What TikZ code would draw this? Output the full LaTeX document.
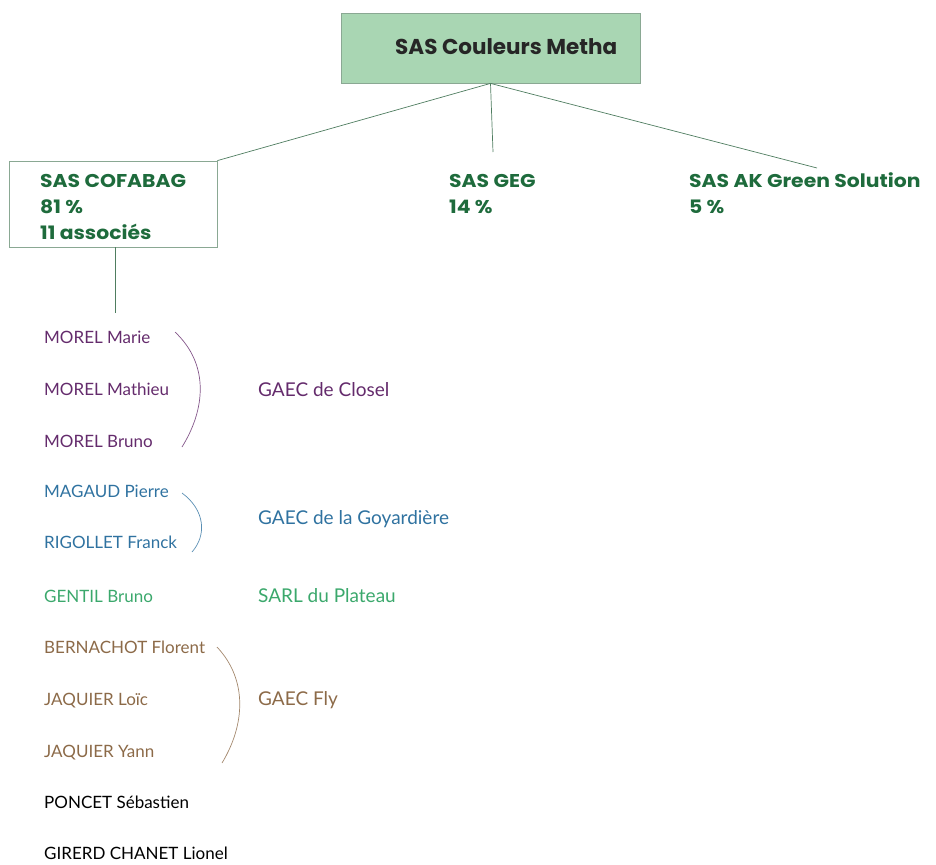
\documentclass[tikz,border=0pt]{standalone}
\usepackage{fontspec}
\setmainfont{Lato}
\newfontfamily\hdrfont{Poppins}
\newfontfamily\hdrwide[FakeStretch=1.1]{Poppins}
\definecolor{hdr}{HTML}{1E6B3C}
\definecolor{boxfill}{HTML}{A9D6B3}
\definecolor{boxline}{HTML}{8AA893}
\definecolor{conn}{HTML}{4F7D60}
\definecolor{cpurple}{HTML}{642B6C}
\definecolor{cblue}{HTML}{2F72A0}
\definecolor{cgreen}{HTML}{3BA86C}
\definecolor{cbrown}{HTML}{8C6A48}
\tikzset{
  hdrtxt/.style={font=\hdrwide\bfseries\fontsize{18.5}{20}\selectfont, text=hdr, anchor=base west, inner sep=0pt},
  person/.style={font=\fontsize{17}{20}\selectfont, anchor=base west, inner sep=0pt},
  grp/.style={font=\fontsize{19}{22}\selectfont, anchor=base west, inner sep=0pt},
  conline/.style={draw=conn, line width=0.7pt},
  brace/.style={line width=0.7pt},
}
\begin{document}
\begin{tikzpicture}[x=1pt,y=-1pt]
\useasboundingbox (0,0) rectangle (936,864);
% top box
\node[draw=boxline, fill=boxfill, line width=0.8pt, minimum width=299pt, minimum height=70pt, inner sep=0pt] (title) at (490.5,48) {};
\node[font=\hdrfont\bfseries\fontsize{21.5}{24}\selectfont, text=black!85, anchor=base west, inner sep=0pt] (titletxt) at (395,55) {SAS Couleurs Metha};
% COFABAG box
\node[draw=boxline, line width=0.8pt, minimum width=208pt, minimum height=86pt, inner sep=0pt] (cofabox) at (113,204) {};
\node[hdrtxt] (cofa1) at (40,187) {SAS COFABAG};
\node[hdrtxt] (cofa2) at (40,213) {81 \%};
\node[hdrtxt] (cofa3) at (40,239) {11 associés};
% other shareholders
\node[hdrtxt] (geg1) at (449,187) {SAS GEG};
\node[hdrtxt] (geg2) at (449,213) {14 \%};
\node[hdrtxt] (ak1) at (689,187) {SAS AK Green Solution};
\node[hdrtxt] (ak2) at (689,213) {5 \%};
\coordinate (gegtop) at (493,152);
\coordinate (aktop) at (817,168);
\coordinate (listtop) at (115,313);
% connectors
\draw[conline] (title.south) -- (cofabox.north east);
\draw[conline] (title.south) -- (gegtop);
\draw[conline] (title.south) -- (aktop);
\draw[conline] (cofabox.south -| listtop) -- (listtop);
% members
\node[person, text=cpurple] (m1) at (44,343) {MOREL Marie};
\node[person, text=cpurple] (m2) at (44,395) {MOREL Mathieu};
\node[person, text=cpurple] (m3) at (44,447) {MOREL Bruno};
\node[person, text=cblue] (m4) at (44,497) {MAGAUD Pierre};
\node[person, text=cblue] (m5) at (44,548) {RIGOLLET Franck};
\node[person, text=cgreen] (m6) at (44,602) {GENTIL Bruno};
\node[person, text=cbrown] (m7) at (44,653) {BERNACHOT Florent};
\node[person, text=cbrown] (m8) at (44,705) {JAQUIER Loïc};
\node[person, text=cbrown] (m9) at (44,757) {JAQUIER Yann};
\node[person, text=black] (m10) at (44,808) {PONCET Sébastien};
\node[person, text=black] (m11) at (44,859) {GIRERD CHANET Lionel};
% groups
\node[grp, text=cpurple] (g1) at (258,396) {GAEC de Closel};
\node[grp, text=cblue] (g2) at (258,524) {GAEC de la Goyardière};
\node[grp, text=cgreen] (g3) at (258,602) {SARL du Plateau};
\node[grp, text=cbrown] (g4) at (258,705) {GAEC Fly};
% brackets
\draw[brace, draw=cpurple!80] (175,332) .. controls (210,365) and (205,410) .. (182,447);
\draw[brace, draw=cblue!80] (182,493) .. controls (205,510) and (207,535) .. (192,552);
\draw[brace, draw=cbrown!80] (217,647) .. controls (248,680) and (245,725) .. (222,763);
\end{tikzpicture}
\end{document}
